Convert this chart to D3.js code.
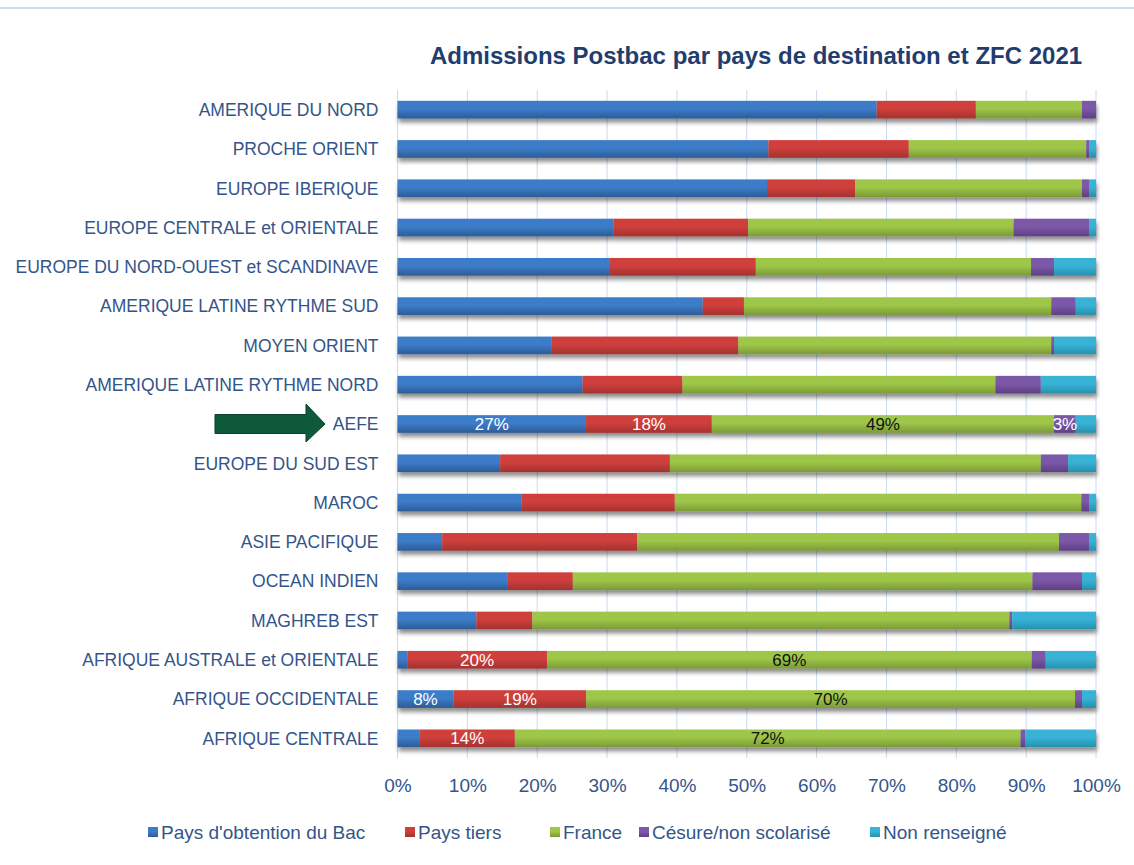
<!DOCTYPE html>
<html>
<head>
<meta charset="utf-8">
<script src="https://cdn.jsdelivr.net/npm/d3@7"></script>
<style>
  html, body { margin: 0; padding: 0; background: #ffffff; }
  svg { display: block; }
</style>
</head>
<body>
<div id="chart"></div>
<script>
// ---------- DATA ----------
const categories = [
  "AMERIQUE DU NORD",
  "PROCHE ORIENT",
  "EUROPE IBERIQUE",
  "EUROPE CENTRALE et ORIENTALE",
  "EUROPE DU NORD-OUEST et SCANDINAVE",
  "AMERIQUE LATINE RYTHME SUD",
  "MOYEN ORIENT",
  "AMERIQUE LATINE RYTHME NORD",
  "AEFE",
  "EUROPE DU SUD EST",
  "MAROC",
  "ASIE PACIFIQUE",
  "OCEAN INDIEN",
  "MAGHREB EST",
  "AFRIQUE AUSTRALE et ORIENTALE",
  "AFRIQUE OCCIDENTALE",
  "AFRIQUE CENTRALE"
];
const seriesNames = ["Pays d'obtention du Bac", "Pays tiers", "France", "Césure/non scolarisé", "Non renseigné"];

const paysBac     = [68.6, 53.1, 52.9, 30.9, 30.3, 43.7, 22.1, 26.5, 27.0, 14.7, 17.8,  6.4, 15.8, 11.3,  1.4,  8.0,  3.2];
const paysTiers   = [14.2, 20.1, 12.6, 19.3, 21.0,  5.9, 26.7, 14.3, 18.0, 24.3, 21.9, 27.9,  9.3,  8.0, 20.0, 19.0, 13.6];
const france      = [15.2, 25.4, 32.5, 38.0, 39.4, 44.0, 44.8, 44.8, 49.0, 53.1, 58.2, 60.4, 65.8, 68.3, 69.4, 70.0, 72.4];
const cesure      = [ 2.0,  0.4,  1.0, 10.8,  3.3,  3.5,  0.4,  6.5,  3.1,  3.9,  1.1,  4.3,  7.1,  0.4,  2.0,  1.0,  0.7];
const nonRens     = [ 0.0,  1.0,  1.0,  1.0,  6.0,  2.9,  6.0,  7.9,  2.9,  4.0,  1.0,  1.0,  2.0, 12.0,  7.2,  2.0, 10.1];

// data labels shown on the chart: [category, series index]
const shownLabels = [
  ["AEFE", 0], ["AEFE", 1], ["AEFE", 2], ["AEFE", 3],
  ["AFRIQUE AUSTRALE et ORIENTALE", 1], ["AFRIQUE AUSTRALE et ORIENTALE", 2],
  ["AFRIQUE OCCIDENTALE", 0], ["AFRIQUE OCCIDENTALE", 1], ["AFRIQUE OCCIDENTALE", 2],
  ["AFRIQUE CENTRALE", 1], ["AFRIQUE CENTRALE", 2]
];
const highlighted = "AEFE";
const xTicks = [0, 10, 20, 30, 40, 50, 60, 70, 80, 90, 100];
const titleText = "Admissions Postbac par pays de destination et ZFC 2021";

// ---------- LAYOUT ----------
const W = 1134, H = 865;
const margin = { left: 397.5, right: 38, top: 90, bottom: 107 };
const FONT = "'Liberation Sans', Arial, sans-serif";
const textBlue = "#34558a";

const colorTop    = ["#3d7cc9", "#cf3f3c", "#9ec648", "#7c58a8", "#37b3d6"];
const colorBottom = ["#2c5c98", "#a23230", "#7b9a38", "#5e3f84", "#2790ad"];

const rows = categories.map((c, i) => ({
  cat: c,
  vals: [paysBac[i], paysTiers[i], france[i], cesure[i], nonRens[i]]
}));
const table = rows.map(r => {
  const o = { cat: r.cat };
  seriesNames.forEach((s, j) => o[s] = r.vals[j]);
  return o;
});
const stack = d3.stack().keys(seriesNames)
  .value((d, k) => d[k] / d3.sum(seriesNames, s => d[s]) * 100);
const series = stack(table);

const svg = d3.select("#chart").append("svg")
  .attr("width", W).attr("height", H);

const defs = svg.append("defs");
seriesNames.forEach((s, j) => {
  const g = defs.append("linearGradient").attr("id", "grad" + j)
    .attr("x1", 0).attr("y1", 0).attr("x2", 0).attr("y2", 1);
  g.append("stop").attr("offset", "0%").attr("stop-color", colorTop[j]);
  g.append("stop").attr("offset", "45%").attr("stop-color", colorTop[j]);
  g.append("stop").attr("offset", "100%").attr("stop-color", colorBottom[j]);
});
const f = defs.append("filter").attr("id", "shadow")
  .attr("x", "-5%").attr("y", "-20%").attr("width", "110%").attr("height", "180%");
f.append("feGaussianBlur").attr("in", "SourceAlpha").attr("stdDeviation", 2.2).attr("result", "blur");
f.append("feOffset").attr("in", "blur").attr("dx", 1).attr("dy", 4).attr("result", "off");
f.append("feComponentTransfer").attr("in", "off").attr("result", "soft")
  .append("feFuncA").attr("type", "linear").attr("slope", 0.45);
const fm = f.append("feMerge");
fm.append("feMergeNode").attr("in", "soft");
fm.append("feMergeNode").attr("in", "SourceGraphic");

// top border line
svg.append("line").attr("x1", 0).attr("x2", W).attr("y1", 8).attr("y2", 8)
  .attr("stroke", "#cfdcec").attr("stroke-width", 2);

const x = d3.scaleLinear().domain([0, 100]).range([margin.left, W - margin.right]);
const y = d3.scaleBand().domain(categories)
  .range([margin.top, H - margin.bottom])
  .paddingInner(0.55).paddingOuter(0.275);

// gridlines
svg.append("g").selectAll("line").data(xTicks).join("line")
  .attr("x1", d => x(d)).attr("x2", d => x(d))
  .attr("y1", margin.top).attr("y2", H - margin.bottom)
  .attr("stroke", "#c9daf0").attr("stroke-width", 1);

// bars
const barsG = svg.append("g").attr("filter", "url(#shadow)");
series.forEach((s, j) => {
  barsG.append("g").attr("fill", `url(#grad${j})`)
    .selectAll("rect").data(s).join("rect")
    .attr("x", d => x(d[0]))
    .attr("width", d => Math.max(0, x(d[1]) - x(d[0])))
    .attr("y", d => y(d.data.cat))
    .attr("height", y.bandwidth());
});

// data labels
const labG = svg.append("g");
shownLabels.forEach(([cat, j]) => {
  const d = series[j].find(e => e.data.cat === cat);
  const v = d.data[seriesNames[j]];
  labG.append("text")
    .attr("x", (x(d[0]) + x(d[1])) / 2)
    .attr("y", y(cat) + y.bandwidth() / 2)
    .attr("dy", "0.36em")
    .attr("text-anchor", "middle")
    .attr("font-family", FONT)
    .attr("font-size", 17)
    .attr("fill", j === 2 ? "#111111" : "#ffffff")
    .text(Math.round(v) + "%");
});

// y axis labels
const yAxis = d3.axisLeft(y).tickSize(0).tickPadding(19);
const yg = svg.append("g").attr("transform", `translate(${margin.left},0)`).call(yAxis);
yg.select(".domain").remove();
yg.selectAll("text").attr("font-family", FONT).attr("font-size", 17.5)
  .attr("fill", textBlue).attr("dy", "0.36em");

// x axis labels
const xAxis = d3.axisBottom(x).tickValues(xTicks).tickSize(0).tickPadding(21)
  .tickFormat(d => d + "%");
const xg = svg.append("g").attr("transform", `translate(0,${H - margin.bottom})`).call(xAxis);
xg.select(".domain").remove();
xg.selectAll("text").attr("font-family", FONT).attr("font-size", 19).attr("fill", textBlue);

// title
svg.append("text").attr("x", 756).attr("y", 64).attr("text-anchor", "middle")
  .attr("font-family", FONT).attr("font-weight", "bold").attr("font-size", 24)
  .attr("fill", "#1f3d6d").text(titleText);

// arrow pointing at highlighted category
const ay = y(highlighted) + y.bandwidth() / 2;
const ax0 = 215, ax1 = 306, atip = 325;
svg.append("path")
  .attr("d", `M${ax0},${ay - 9.5} L${ax1},${ay - 9.5} L${ax1},${ay - 20} L${atip},${ay} L${ax1},${ay + 18} L${ax1},${ay + 9.5} L${ax0},${ay + 9.5} Z`)
  .attr("fill", "#0f5a3b").attr("stroke", "#0b3f29").attr("stroke-width", 1);

// legend
const legendX = [148, 405, 550, 639, 870];
const legendY = 832;
const lg = svg.append("g");
seriesNames.forEach((s, j) => {
  lg.append("rect").attr("x", legendX[j]).attr("y", legendY - 5)
    .attr("width", 10).attr("height", 10).attr("fill", `url(#grad${j})`);
  lg.append("text").attr("x", legendX[j] + 13).attr("y", legendY).attr("dy", "0.36em")
    .attr("font-family", FONT).attr("font-size", 19).attr("fill", textBlue).text(s);
});
</script>
</body>
</html>
